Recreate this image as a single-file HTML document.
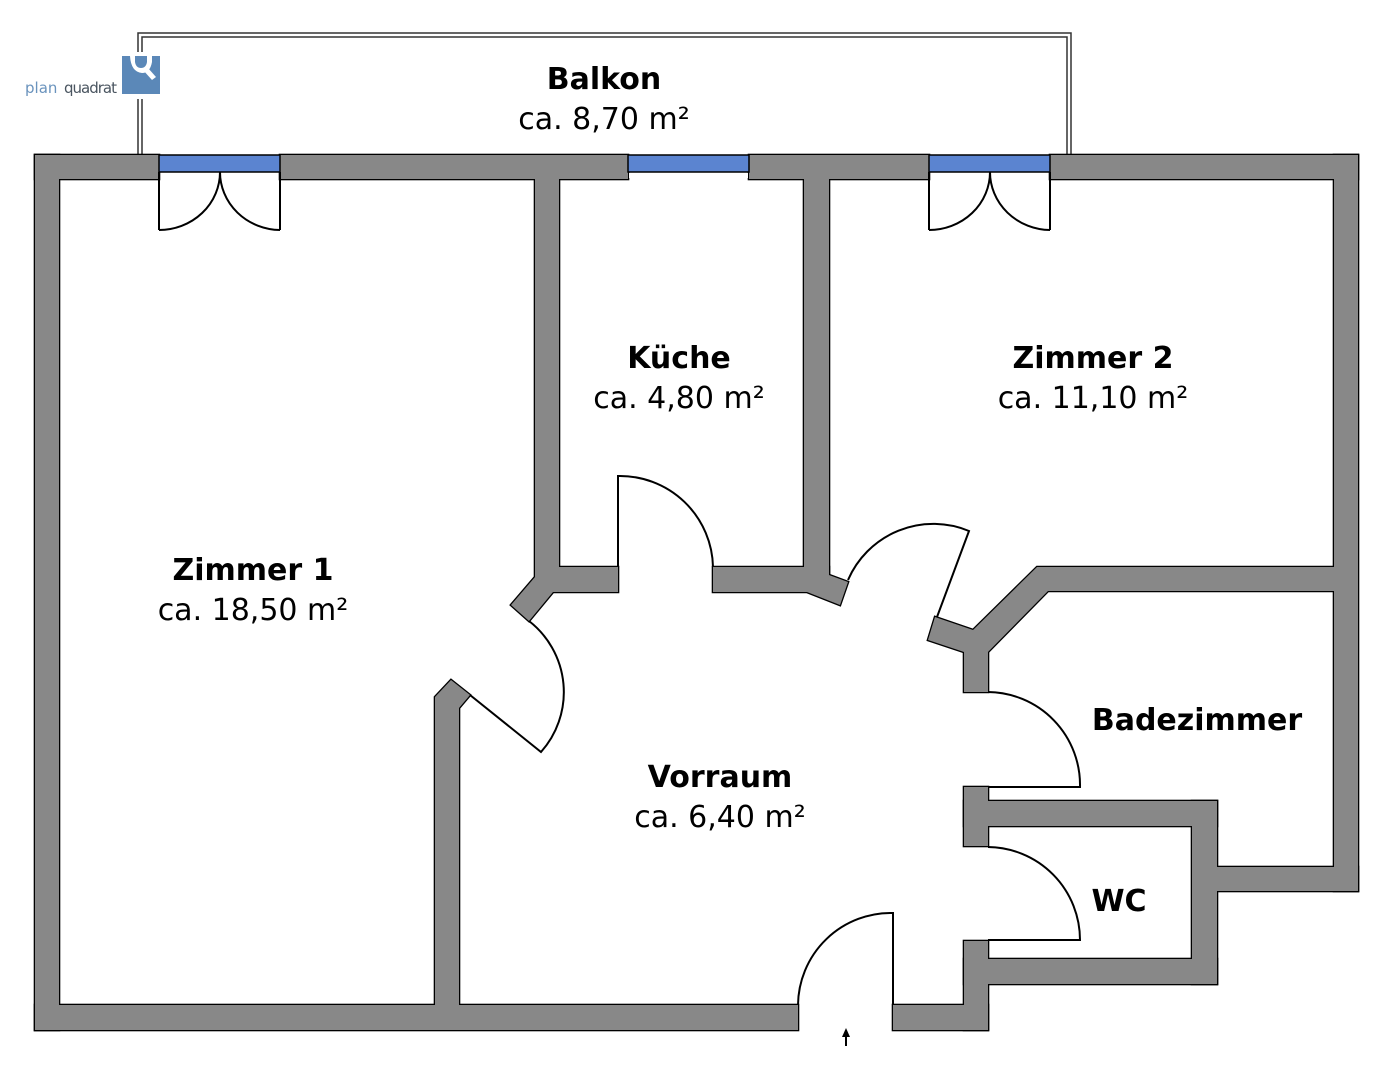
<!DOCTYPE html>
<html><head><meta charset="utf-8"><style>
html,body{margin:0;padding:0;background:#fff;}
svg{display:block;}
text{font-family:"DejaVu Sans","Liberation Sans",sans-serif;fill:#000;text-anchor:middle;}
.b{font-weight:bold;font-size:30px;}
.n{font-size:30px;}
</style></head><body>
<svg width="1393" height="1080" viewBox="0 0 1393 1080" xmlns="http://www.w3.org/2000/svg">
<!-- balcony -->
<rect x="138" y="33" width="933" height="130" fill="none" stroke="#333" stroke-width="1.5"/>
<rect x="142" y="37" width="925" height="126" fill="none" stroke="#333" stroke-width="1.5"/>
<rect x="120" y="52" width="44" height="47" fill="#fff"/>
<!-- logo -->
<rect x="122" y="56" width="38" height="38" fill="#5b88b8"/>
<path d="M130 56 Q131 72 142 73 Q150 73 152 62 L152 56 L147 56 L147 62 Q146 68 141 68 Q136 68 135 62 L135 56 Z" fill="#fff"/>
<path d="M143 70 L152 80 L156 77 L148 68 Z" fill="#fff"/>
<text x="25" y="93" style="font-family:'DejaVu Sans',sans-serif;font-size:15px;fill:#6a93bd;text-anchor:start">plan</text>
<text x="64" y="93" style="font-family:'DejaVu Sans',sans-serif;font-size:15px;fill:#4a5560;text-anchor:start" textLength="53">quadrat</text>

<defs>
<g id="walls">
<rect x="35" y="155" width="124" height="24"/>
<rect x="280" y="155" width="348" height="24"/>
<rect x="749" y="155" width="180" height="24"/>
<rect x="1050" y="155" width="308" height="24"/>
<rect x="35" y="155" width="24" height="875"/>
<rect x="1334" y="155" width="24" height="736"/>
<rect x="35" y="1005" width="763" height="25"/>
<rect x="893" y="1005" width="95" height="25"/>
<rect x="964" y="941" width="24" height="89"/>
<rect x="964" y="959" width="253" height="25"/>
<rect x="1192" y="801" width="25" height="183"/>
<rect x="964" y="801" width="253" height="25"/>
<rect x="964" y="787" width="24" height="59"/>
<rect x="1217" y="867" width="141" height="24"/>
<rect x="804" y="170" width="25" height="405"/>
<polygon points="713,567 829,567 829,575 848,582 840,605 807,592 713,592"/>
<polygon points="535,170 559,170 559,567 618,567 618,592 553,592 529,621 511,605 535,577"/>
<polygon points="435,1010 435,697 451,680 470,695 459,708 459,1010"/>
<polygon points="935,617 973,630 1037,567 1340,567 1340,591 1048,591 988,652 988,692 964,692 964,652 928,640"/>
</g>
</defs>
<use href="#walls" fill="#000" stroke="#000" stroke-width="2.6"/>
<use href="#walls" fill="#888"/>

<!-- windows -->
<g stroke="#000" stroke-width="1.5">
<rect x="159" y="155" width="121" height="17" fill="#5b84d0"/>
<rect x="628" y="155" width="121" height="17" fill="#5b84d0"/>
<rect x="929" y="155" width="121" height="17" fill="#5b84d0"/>
</g>
<rect x="629" y="173" width="119" height="5" fill="#fff"/>
<!-- double doors -->
<g fill="none" stroke="#000" stroke-width="2">
<path d="M159 172 V230 M280 172 V230 M220 172 A61 58 0 0 1 159 230 M220 172 A61 58 0 0 0 280 230"/>
<path d="M929 172 V230 M1050 172 V230 M990 172 A61 58 0 0 1 929 230 M990 172 A61 58 0 0 0 1050 230"/>
</g>
<!-- swing doors -->
<g fill="none" stroke="#000" stroke-width="2">
<path d="M618 567 V476 A93 93 0 0 1 713 567"/>
<path d="M937 617 L969 531 A93 93 0 0 0 848 580"/>
<path d="M529 621 A90 90 0 0 1 541 752 L470 695"/>
<path d="M988 692 A93 93 0 0 1 1080 787 H988"/>
<path d="M988 847 A93 93 0 0 1 1080 940 H988"/>
<path d="M893 1005 V913 A93 93 0 0 0 798 1005"/>
</g>
<!-- entry arrow -->
<path d="M846 1046 V1036" stroke="#000" stroke-width="2"/>
<polygon points="842,1037 846,1028 850,1037" fill="#000"/>

<!-- labels -->
<text class="b" x="604" y="89">Balkon</text>
<text class="n" x="604" y="129">ca. 8,70 m²</text>
<text class="b" x="679" y="368">Küche</text>
<text class="n" x="679" y="408">ca. 4,80 m²</text>
<text class="b" x="1093" y="368">Zimmer 2</text>
<text class="n" x="1093" y="408">ca. 11,10 m²</text>
<text class="b" x="253" y="580">Zimmer 1</text>
<text class="n" x="253" y="620">ca. 18,50 m²</text>
<text class="b" x="720" y="787">Vorraum</text>
<text class="n" x="720" y="827">ca. 6,40 m²</text>
<text class="b" x="1197" y="730">Badezimmer</text>
<text class="b" x="1119" y="911">WC</text>
</svg>
</body></html>
